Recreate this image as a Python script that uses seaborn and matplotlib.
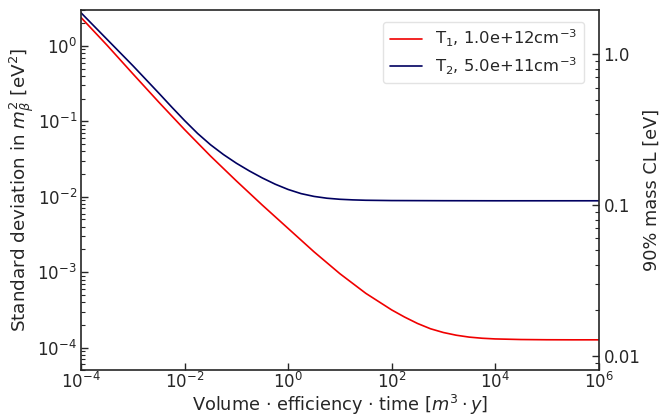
import numpy as np
import pandas as pd
import matplotlib
matplotlib.use("Agg")
import matplotlib.pyplot as plt
import matplotlib.ticker as mticker
import seaborn as sns

# ---- data (log10 values) ----
red_logx = [-4.0, -3.5, -3.0, -2.5, -2.0, -1.5, -1.0, -0.5, 0.0, 0.5, 1.0, 1.5,
            2.0, 2.25, 2.5, 2.75, 3.0, 3.25, 3.5, 3.75, 4.0, 4.5, 5.0, 5.5, 6.0]
red_logsig = [0.375, 0.01, -0.37, -0.745, -1.11, -1.46, -1.79, -2.11, -2.42, -2.73, -3.02, -3.28,
              -3.50, -3.595, -3.68, -3.75, -3.80, -3.836, -3.861, -3.876, -3.885, -3.893, -3.896, -3.897, -3.897]

blue_logx = [-4.0, -3.5, -3.0, -2.5, -2.25, -2.0, -1.75, -1.5, -1.25, -1.0, -0.75, -0.5, -0.25,
             0.0, 0.25, 0.5, 0.75, 1.0, 1.25, 1.5, 2.0, 3.0, 4.0, 5.0, 6.0]
blue_logsig = [0.438, 0.088, -0.262, -0.625, -0.81, -0.99, -1.16, -1.31, -1.44, -1.555, -1.657, -1.75, -1.833,
               -1.903, -1.958, -1.995, -2.019, -2.033, -2.041, -2.046, -2.05, -2.052, -2.053, -2.053, -2.053]

labels = [r"T$_1$, 1.0e+12cm$^{-3}$", r"T$_2$, 5.0e+11cm$^{-3}$"]
colors = ["#f00000", "#000060"]

x_ticks = [1e-4, 1e-2, 1e0, 1e2, 1e4, 1e6]
mass_ticks = [0.01, 0.1, 1.0]
mass_labels = ["0.01", "0.1", "1.0"]

df_red = pd.DataFrame({"x": 10 ** np.array(red_logx), "sigma": 10 ** np.array(red_logsig)})
df_blue = pd.DataFrame({"x": 10 ** np.array(blue_logx), "sigma": 10 ** np.array(blue_logsig)})

sns.set_style("white")
plt.rcParams["font.family"] = ["DejaVu Sans"]

fig = plt.figure(figsize=(6.6, 4.17), dpi=100)
ax = fig.add_axes([0.123, 0.112, 0.784, 0.864])

sns.lineplot(data=df_red, x="x", y="sigma", color=colors[0], label=labels[0], lw=1.2, ax=ax)
sns.lineplot(data=df_blue, x="x", y="sigma", color=colors[1], label=labels[1], lw=1.2, ax=ax)

ax.set_xscale("log")
ax.set_yscale("log")
ax.set_xlim(1e-4, 1e6)
ax.set_ylim(5e-5, 3.0)
ax.set_xticks(x_ticks)
ax.xaxis.set_minor_locator(mticker.NullLocator())
ax.yaxis.set_major_locator(mticker.LogLocator(base=10, numticks=10))
ax.yaxis.set_minor_locator(mticker.LogLocator(base=10, subs=np.arange(2, 10), numticks=20))
ax.yaxis.set_minor_formatter(mticker.NullFormatter())
ax.tick_params(axis="both", which="major", direction="in", length=5, width=1,
               labelsize=12, color=".15", pad=3, bottom=True, left=True, top=False, right=False)
ax.tick_params(axis="x", which="major", pad=1.5)
ax.tick_params(axis="y", which="minor", direction="in", length=3, width=0.8, left=True)

for s in ax.spines.values():
    s.set_color(".15")
    s.set_linewidth(1.2)

ax.set_xlabel(r"Volume $\cdot$ efficiency $\cdot$ time [$m^3 \cdot y$]", fontsize=12.8, labelpad=0)
ax.set_ylabel(r"Standard deviation in $m_\beta^2$ [eV$^2$]", fontsize=13.2, labelpad=1)

def fwd(s):
    return np.sqrt(1.2816 * np.clip(s, 1e-12, None))

def inv(m):
    return m ** 2 / 1.2816

sec = ax.secondary_yaxis("right", functions=(fwd, inv))
sec.set_yticks(mass_ticks)
sec.set_yticklabels(mass_labels)
sec.yaxis.set_minor_formatter(mticker.NullFormatter())
sec.tick_params(axis="y", which="major", direction="in", length=5, width=1, labelsize=12, color=".15")
sec.tick_params(axis="y", which="minor", direction="in", length=3, width=0.8, color=".15")
sec.set_ylabel("90% mass CL [eV]", fontsize=12.8, labelpad=2)
sec.spines["right"].set_visible(False)

leg = ax.legend(loc="upper right", bbox_to_anchor=(0.972, 0.968), borderaxespad=0,
                fontsize=11.8, frameon=True, handlelength=2.0, labelspacing=0.35)
leg.get_frame().set_edgecolor("#dddddd")

fig.savefig("out.png", dpi=100)
